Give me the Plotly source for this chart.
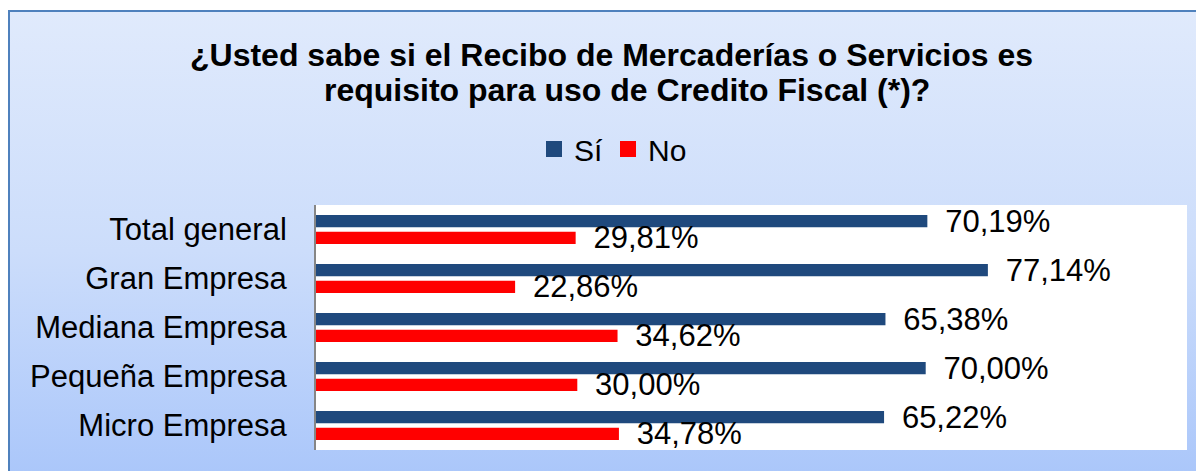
import base64
import plotly.graph_objects as go

# datos
categorias = ["Total general", "Gran Empresa", "Mediana Empresa", "Pequeña Empresa", "Micro Empresa"]
si = [70.19, 77.14, 65.38, 70.00, 65.22]
no = [29.81, 22.86, 34.62, 30.00, 34.78]

font = "Liberation Sans, Arial, sans-serif"
W, H = 1204, 471
OFF = 8  # page body margin shifts the figure by 8px
L, T = 316 - OFF, 205 - OFF
R, B = W - (1187 - OFF), H - (450 - OFF)
pw, ph = W - L - R, H - T - B

# screen pixels -> paper coords
def px(x):
    return (x - OFF - L) / pw

def py(y):
    return (H - B - (y - OFF)) / ph

# fondo degradado como imagen svg
svg = (
    '<svg xmlns="http://www.w3.org/2000/svg" width="100" height="100" preserveAspectRatio="none">'
    '<defs><linearGradient id="g" x1="0" y1="0" x2="0" y2="1">'
    '<stop offset="0" stop-color="#E0EAFC"/>'
    '<stop offset="0.5" stop-color="#CCDDFB"/>'
    '<stop offset="1" stop-color="#A8C5FA"/>'
    '</linearGradient></defs>'
    '<rect width="100" height="100" fill="url(#g)"/></svg>'
)
svg_uri = "data:image/svg+xml;base64," + base64.b64encode(svg.encode()).decode()

azul, rojo = "#1F497D", "#FF0000"
lbl = dict(size=31, color="black", family=font)

fig = go.Figure()
for nombre, vals, color in [("Sí", si, azul), ("No", no, rojo)]:
    fig.add_trace(go.Bar(
        y=categorias, x=vals, name=nombre, orientation="h", showlegend=False,
        marker=dict(color=color, line=dict(width=0)),
        texttemplate="\u00a0\u2009%{x:.2f}%", textposition="outside",
        textfont=lbl, constraintext="none", cliponaxis=False,
    ))
# entradas de leyenda con cuadrados mas grandes
for nombre, color in [("Sí", azul), ("No", rojo)]:
    fig.add_trace(go.Scatter(
        x=[None], y=[None], mode="markers", name=nombre,
        marker=dict(symbol="square", size=16, color=color),
    ))

fig.update_layout(
    width=W, height=H,
    margin=dict(l=L, r=R, t=T, b=B),
    separators=",.",
    barmode="group", bargap=0.32, bargroupgap=0.26,
    paper_bgcolor="white", plot_bgcolor="white",
    font=dict(family=font, size=31, color="black"),
    legend=dict(
        orientation="h", x=px(534), xanchor="left", y=py(149), yanchor="middle",
        font=dict(size=30, family=font), bgcolor="rgba(0,0,0,0)",
        traceorder="normal",
    ),
    xaxis=dict(range=[0, 100], showgrid=False, zeroline=False, showticklabels=False,
               showline=False, fixedrange=True),
    yaxis=dict(autorange="reversed", showgrid=False, zeroline=False,
               showline=True, linecolor="#868686", linewidth=2,
               ticks="outside", ticklen=0, ticklabelstandoff=21,
               tickfont=lbl),
    annotations=[
        dict(text="<b>¿Usted sabe si el Recibo de Mercaderías o Servicios es</b>",
             xref="paper", yref="paper", x=px(611), y=py(66 - 11),
             xanchor="center", yanchor="middle", showarrow=False,
             font=dict(size=32, family=font, color="black")),
        dict(text="<b>requisito para uso de Credito Fiscal (*)?</b>",
             xref="paper", yref="paper", x=px(627), y=py(101 - 11),
             xanchor="center", yanchor="middle", showarrow=False,
             font=dict(size=32, family=font, color="black")),
    ],
    images=[dict(
        source=svg_uri, xref="paper", yref="paper",
        x=px(OFF + 1), y=py(11), sizex=px(W + 20) - px(OFF + 1), sizey=py(11) - py(H + 20),
        xanchor="left", yanchor="top", sizing="stretch", layer="below",
    )],
    shapes=[
        # marco exterior
        dict(type="rect", xref="paper", yref="paper", layer="below",
             x0=px(OFF + 1), x1=px(W + 20), y0=py(H + 20), y1=py(11),
             line=dict(color="#4F81BD", width=2), fillcolor="rgba(0,0,0,0)"),
        # area de trazado blanca
        dict(type="rect", xref="paper", yref="paper", layer="below",
             x0=0, x1=1, y0=0, y1=1, line=dict(width=0), fillcolor="white"),
    ],
)

fig.write_html("out.html")
